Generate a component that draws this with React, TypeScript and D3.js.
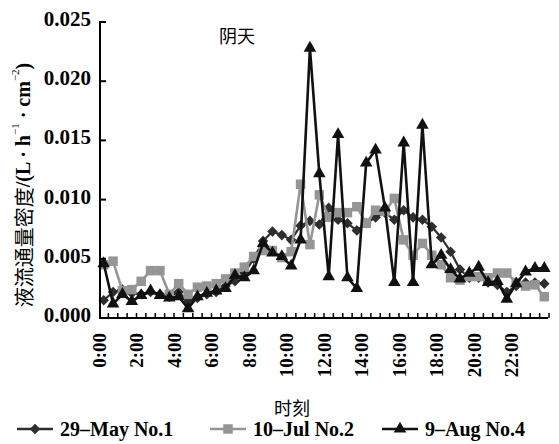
import React from 'react';
import * as d3 from 'd3';

const width = 559;
const height = 444;
const margin = { top: 22, right: 10, bottom: 126, left: 99 };
const axisX = 100;
const serif = '"Liberation Serif", "Times New Roman", serif';
const cjk = '"Noto Sans CJK SC", sans-serif';

// half-hour categories
const times = [
  '0:00', '0:30', '1:00', '1:30', '2:00', '2:30', '3:00', '3:30',
  '4:00', '4:30', '5:00', '5:30', '6:00', '6:30', '7:00', '7:30',
  '8:00', '8:30', '9:00', '9:30', '10:00', '10:30', '11:00', '11:30',
  '12:00', '12:30', '13:00', '13:30', '14:00', '14:30', '15:00', '15:30',
  '16:00', '16:30', '17:00', '17:30', '18:00', '18:30', '19:00', '19:30',
  '20:00', '20:30', '21:00', '21:30', '22:00', '22:30', '23:00', '23:30',
];
const tickLabels = ['0:00', '2:00', '4:00', '6:00', '8:00', '10:00', '12:00', '14:00', '16:00', '18:00', '20:00', '22:00'];
const yTicks = [0, 0.005, 0.01, 0.015, 0.02, 0.025];

const may29 = [
  0.0015, 0.0022, 0.0024, 0.0021, 0.0020, 0.0022, 0.0020, 0.0018,
  0.0022, 0.0014, 0.0017, 0.0020, 0.0022, 0.0027, 0.0031, 0.0038,
  0.0050, 0.0065, 0.0073, 0.0070, 0.0066, 0.0078, 0.0082, 0.0079,
  0.0093, 0.0083, 0.0080, 0.0074, 0.0080, 0.0085, 0.0089, 0.0083,
  0.0091, 0.0085, 0.0083, 0.0077, 0.0068, 0.0056, 0.0041, 0.0034,
  0.0034, 0.0030, 0.0028, 0.0022, 0.0027, 0.0030, 0.0030, 0.0029,
];
const jul10 = [
  0.0045, 0.0048, 0.0023, 0.0024, 0.0031, 0.0040, 0.0040, 0.0020,
  0.0029, 0.0020, 0.0026, 0.0027, 0.0029, 0.0033, 0.0038, 0.0043,
  0.0052, 0.0057, 0.0057, 0.0051, 0.0056, 0.0113, 0.0062, 0.0104,
  0.0085, 0.0089, 0.0089, 0.0094, 0.0080, 0.0091, 0.0090, 0.0101,
  0.0066, 0.0053, 0.0063, 0.0053, 0.0045, 0.0034, 0.0032, 0.0035,
  0.0035, 0.0034, 0.0038, 0.0038, 0.0030, 0.0027, 0.0028, 0.0018,
];
const aug9 = [
  0.0046, 0.0012, 0.0020, 0.0014, 0.0019, 0.0023, 0.0019, 0.0017,
  0.0018, 0.0008, 0.0018, 0.0021, 0.0023, 0.0025, 0.0036, 0.0034,
  0.0040, 0.0063, 0.0055, 0.0052, 0.0044, 0.0066, 0.0228, 0.0122,
  0.0035, 0.0155, 0.0034, 0.0025, 0.0131, 0.0142, 0.0093, 0.0030,
  0.0148, 0.0030, 0.0163, 0.0045, 0.0053, 0.0041, 0.0033, 0.0038,
  0.0043, 0.0030, 0.0031, 0.0016, 0.0029, 0.0039, 0.0042, 0.0042,
];

const series = [
  { name: '29–May No.1', values: may29, color: '#2e2e2e', lw: 2.2, shape: 'diamond' },
  { name: '10–Jul No.2', values: jul10, color: '#959595', lw: 2.6, shape: 'square' },
  { name: '9–Aug No.4', values: aug9, color: '#111111', lw: 2.6, shape: 'triangle' },
];

const xScale = d3.scaleBand<string>().domain(times).range([margin.left, width - margin.right]);
const yScale = d3.scaleLinear().domain([0, 0.025]).range([height - margin.bottom, margin.top]);

const symbolPath = (shape: string) => {
  if (shape === 'square') return d3.symbol().type(d3.symbolSquare).size(90)() as string;
  if (shape === 'triangle') return d3.symbol().type(d3.symbolTriangle).size(68)() as string;
  return d3.symbol().type(d3.symbolSquare).size(56)() as string;
};

const Marker = ({ shape, x, y, color }: { shape: string; x: number; y: number; color: string }) => (
  <path
    d={symbolPath(shape)}
    transform={`translate(${x},${y})${shape === 'diamond' ? ' rotate(45)' : ''}`}
    fill={color}
  />
);

export default function App() {
  const cx = (t: string) => (xScale(t) as number) + xScale.bandwidth() / 2;
  const line = d3.line<number>().x((_, i) => cx(times[i])).y(d => yScale(d));
  const y0 = yScale(0);
  const legendX = [17, 210, 382];
  const legendY = 429;

  return (
    <svg width={width} height={height} style={{ position: 'absolute', left: 0, top: 0, background: '#fff' }}>
      {/* series */}
      {series.map(s => (
        <g key={s.name}>
          <path d={line(s.values) as string} fill="none" stroke={s.color} strokeWidth={s.lw} strokeLinejoin="round" />
          {s.values.map((v, i) => (
            <Marker key={i} shape={s.shape} x={cx(times[i])} y={yScale(v)} color={s.color} />
          ))}
        </g>
      ))}

      {/* y axis */}
      <line x1={axisX} x2={axisX} y1={yScale(0.025) - 1} y2={y0 + 1} stroke="#000" strokeWidth={2} />
      {yTicks.map(t => (
        <g key={t}>
          <line x1={axisX} x2={axisX + 6} y1={yScale(t)} y2={yScale(t)} stroke="#000" strokeWidth={2} />
          <text x={91} y={yScale(t) - 3} textAnchor="end" dominantBaseline="central"
            fontFamily={serif} fontWeight="bold" fontSize={21}>{d3.format('.3f')(t)}</text>
        </g>
      ))}

      {/* x axis */}
      <line x1={axisX - 1} x2={width - margin.right - 1} y1={y0} y2={y0} stroke="#000" strokeWidth={2} />
      {times.map(t => (
        <line key={t} x1={(xScale(t) as number) + xScale.bandwidth()} x2={(xScale(t) as number) + xScale.bandwidth()}
          y1={y0} y2={y0 - 5} stroke="#000" strokeWidth={1.5} />
      ))}
      {tickLabels.map(t => (
        <text key={t} transform={`translate(${xScale(t)},${333}) rotate(-90)`} textAnchor="end"
          dominantBaseline="central" fontFamily={serif} fontWeight="bold" fontSize={19}>{t}</text>
      ))}

      {/* titles */}
      <text x={237} y={43} textAnchor="middle" fontFamily={cjk} fontSize={18}>阴天</text>
      <text x={292} y={415} textAnchor="middle" fontFamily={cjk} fontSize={18}>时刻</text>
      <text transform="translate(23,185) rotate(-90)" textAnchor="middle" dominantBaseline="central" fontSize={20}>
        <tspan fontFamily={cjk}>液流通量密度</tspan>
        <tspan fontFamily={serif} fontWeight="bold">/(L · h</tspan>
        <tspan fontFamily={serif} fontSize={11} dy={-8}>−1</tspan>
        <tspan fontFamily={serif} fontWeight="bold" dy={8}> · cm</tspan>
        <tspan fontFamily={serif} fontSize={11} dy={-8}>−2</tspan>
        <tspan fontFamily={serif} fontWeight="bold" dy={8}>)</tspan>
      </text>

      {/* legend */}
      {series.map((s, i) => (
        <g key={s.name}>
          <line x1={legendX[i]} x2={legendX[i] + 36} y1={legendY} y2={legendY} stroke={s.color} strokeWidth={2.5} />
          <Marker shape={s.shape} x={legendX[i] + 18} y={legendY} color={s.color} />
          <text x={legendX[i] + 43} y={legendY + 7} fontFamily={serif} fontWeight="bold" fontSize={20}>{s.name}</text>
        </g>
      ))}
    </svg>
  );
}
